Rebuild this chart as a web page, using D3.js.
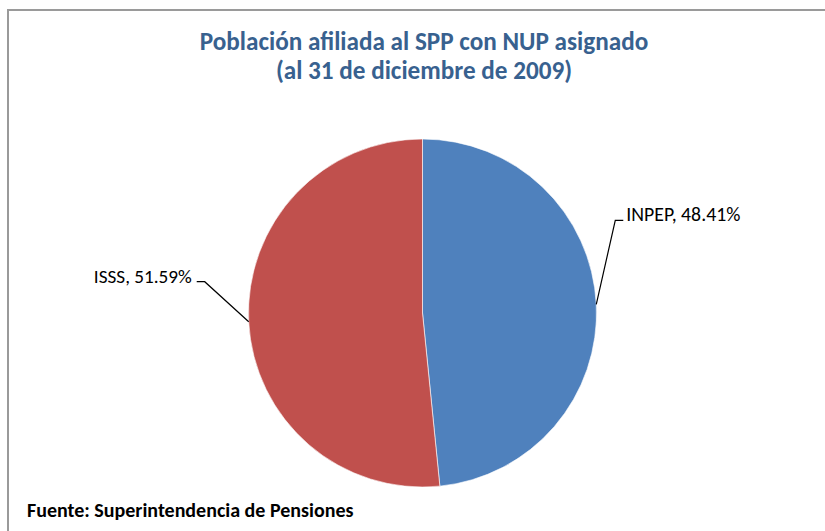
<!DOCTYPE html>
<html>
<head>
<meta charset="utf-8">
<script src="https://cdn.jsdelivr.net/npm/d3@7"></script>
<style>
  body { margin: 0; background: #fff; }
  text { font-family: Carlito, Lato, 'Open Sans', sans-serif; }
</style>
</head>
<body>
<script>
var categories = ['INPEP', 'ISSS'];
var values = [48.41, 51.59];
var colors = ['#4F81BD', '#C0504D'];
var titleLines = ['Población afiliada al SPP con NUP asignado', '(al 31 de diciembre de 2009)'];
var source = 'Fuente: Superintendencia de Pensiones';

// label elbow offsets from the slice edge (layout only)
var labelOffsets = [[19, -84], [-44, -40]];

var width = 825, height = 531;
var svg = d3.select('body').append('svg').attr('width', width).attr('height', height);

// chart frame
svg.append('rect')
  .attr('x', 8).attr('y', 10)
  .attr('width', 830).attr('height', 540)
  .attr('fill', 'none')
  .attr('stroke', '#9a9a9a')
  .attr('stroke-width', 2);

svg.selectAll('.title')
  .data(titleLines)
  .enter()
  .append('text')
  .attr('class', 'title')
  .attr('x', 424)
  .attr('y', function (d, i) { return 50 + i * 28.5; })
  .attr('text-anchor', 'middle')
  .attr('font-size', 25.2)
  .attr('font-weight', 'bold')
  .attr('fill', '#38618F')
  .text(function (d) { return d; });

var cx = 422.5, cy = 313, radius = 174;
var g = svg.append('g').attr('transform', 'translate(' + cx + ',' + cy + ')');

var data = categories.map(function (c, i) { return { name: c, value: values[i], color: colors[i], off: labelOffsets[i] }; });

var pie = d3.pie().sort(null).value(function (d) { return d.value; });
var arc = d3.arc().innerRadius(0).outerRadius(radius);
var edge = d3.arc().innerRadius(radius).outerRadius(radius);

var slices = g.selectAll('.arc').data(pie(data)).enter().append('g').attr('class', 'arc');

slices.append('path')
  .attr('d', arc)
  .attr('fill', function (d) { return d.data.color; })
  .attr('stroke', '#ffffff')
  .attr('stroke-width', 0.6);

slices.each(function (d) {
  var p = edge.centroid(d);
  var e = [p[0] + d.data.off[0], p[1] + d.data.off[1]];
  var right = e[0] > 0;
  var h = [e[0] + (right ? 8 : -8), e[1]];
  d3.select(this).append('polyline')
    .attr('points', [p, e, h].map(function (q) { return q.join(','); }).join(' '))
    .attr('fill', 'none')
    .attr('stroke', '#000')
    .attr('stroke-width', 1.2);
  d3.select(this).append('text')
    .attr('x', h[0] + (right ? 3 : -5))
    .attr('y', h[1] + 1)
    .attr('text-anchor', right ? 'start' : 'end')
    .attr('font-size', right ? 19.8 : 19.2)
    .attr('fill', '#000')
    .text(d.data.name + ', ' + d3.format('.2f')(d.data.value) + '%');
});

svg.append('text')
  .attr('x', 27)
  .attr('y', 517)
  .attr('font-size', 20)
  .attr('font-weight', 'bold')
  .attr('fill', '#000')
  .text(source);
</script>
</body>
</html>
